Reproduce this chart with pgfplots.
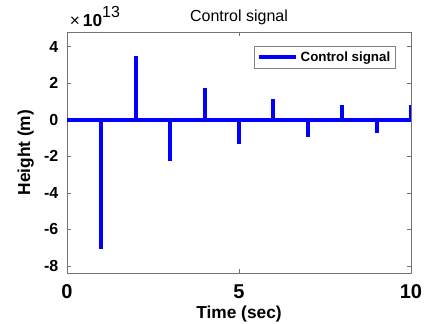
\documentclass[border=0pt]{standalone}
\usepackage{fontspec}
\setmainfont{Liberation Sans}
\usepackage{pgfplots}
\pgfplotsset{compat=1.18}
\definecolor{mblue}{RGB}{0,0,255}
\begin{document}
\begin{tikzpicture}
\begin{axis}[
  scale only axis, width=258pt, height=181pt,
  xmin=0, xmax=10, ymin=-8.4e13, ymax=4.8e13,
  xtick={0,5,10},
  ytick={-8e13,-6e13,-4e13,-2e13,0,2e13,4e13},
  scaled y ticks=base 10:-13,
  ytick scale label code/.code={},
  /pgf/number format/assume math mode=true,
  tick pos=both, major tick length=3pt,
  axis line style={black!55},
  every tick/.style={black!55},
  xticklabel style={font=\bfseries\fontsize{15}{15}\selectfont, anchor=base, yshift=-19pt},
  yticklabel style={font=\bfseries\fontsize{12}{12}\selectfont, anchor=east, xshift=-3pt},
  title={Control signal},
  title style={font=\fontsize{12}{12}\selectfont, at={(0.5,1)}, anchor=base, yshift=2pt},
  xlabel={Time (sec)},
  xlabel style={font=\bfseries\fontsize{13}{13}\selectfont, at={(axis description cs:0.5,0)}, anchor=base, yshift=-34pt},
  ylabel={Height (m)},
  ylabel style={font=\bfseries\fontsize{13}{13}\selectfont, at={(axis description cs:-0.12,0.5)}, rotate=0, anchor=center},
  legend style={at={(0.956,0.942)}, anchor=north east, draw=black!50, font=\bfseries\fontsize{10}{10}\selectfont, inner sep=2pt},
  legend image code/.code={\draw[#1, line width=3pt] (0pt,0pt) -- (28pt,0pt);},
  clip mode=individual,
]
\addplot [mblue, line width=3pt] coordinates {(0,0) (10,0)};
\addlegendentry{Control signal}
\addplot [ycomb, mblue, line width=3pt, forget plot] coordinates {
  (1,-7.07e13) (2,3.5e13) (3,-2.24e13) (4,1.73e13) (5,-1.33e13)
  (6,1.11e13) (7,-0.97e13) (8,0.82e13) (9,-0.73e13) (10,0.82e13)
};
\node[anchor=base west, inner sep=0pt, xshift=2pt, yshift=4.5pt] at (rel axis cs:0,1)
  {\fontsize{13}{13}\selectfont ×\,{\bfseries 10}\raisebox{6.5pt}{\fontsize{12}{12}\selectfont 13}};
\coordinate (sw) at (rel axis cs:0,0);
\coordinate (ne) at (rel axis cs:1,1);
\end{axis}
\pgfresetboundingbox
\useasboundingbox ([xshift=-50.25pt,yshift=-37.5pt]sw) rectangle ([xshift=10.5pt,yshift=24pt]ne);
\end{tikzpicture}
\end{document}
